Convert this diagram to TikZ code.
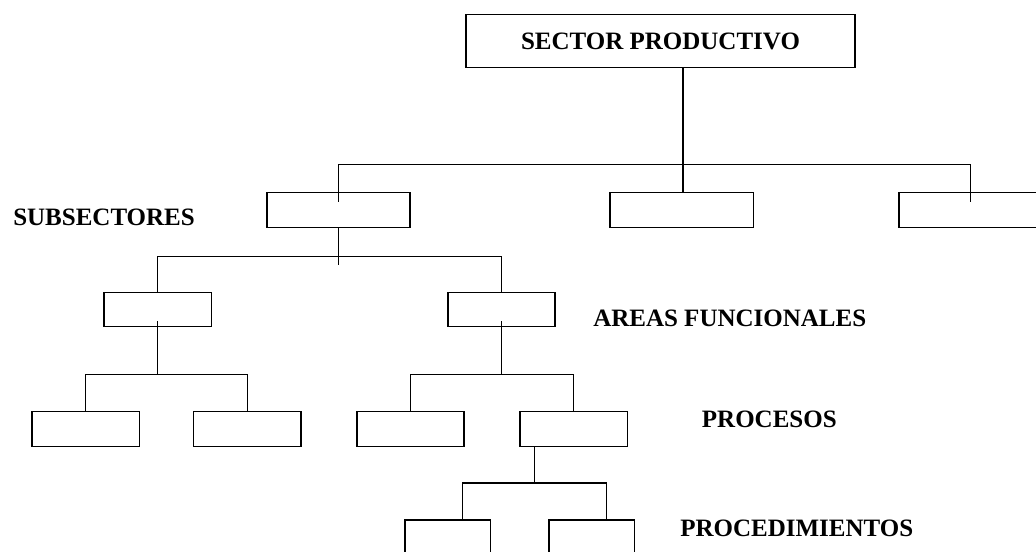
\documentclass[tikz,border=0pt]{standalone}
\usepackage{fontspec}
\setmainfont{Liberation Serif}
\begin{document}
\begin{tikzpicture}[x=0.75pt,y=-0.75pt,
  box/.style={draw, rectangle, inner sep=0pt, outer sep=0pt, line width=1.15pt},
  bigbox/.style={box, minimum width=291.75pt, minimum height=39.45pt,
    font=\bfseries\fontsize{18.75}{22}\selectfont},
  subbox/.style={box, minimum width=107.5pt, minimum height=26.4pt},
  areabox/.style={box, minimum width=80.6pt, minimum height=25.35pt},
  procbox/.style={box, minimum width=80.6pt, minimum height=26.25pt},
  stepbox/.style={box, minimum width=64.2pt, minimum height=26.25pt},
  lbl/.style={anchor=base west, inner sep=0pt, font=\bfseries\fontsize{18.75}{22}\selectfont},
  link/.style={line width=1.15pt, line cap=rect}]
\useasboundingbox (0,0) rectangle (1036,551);

% top level
\node[bigbox] (sector) at (660.5,41) {SECTOR PRODUCTIVO};

% subsectors
\node[subbox] (sub1) at (338.5,209.9) {};
\node[subbox] (sub2) at (681.85,209.9) {};
\node[subbox] (sub3) at (970.5,209.9) {};

% functional areas
\node[areabox] (area1) at (157.65,309.6) {};
\node[areabox] (area2) at (501.5,309.6) {};

% processes
\node[procbox] (p1) at (85.65,429.2) {};
\node[procbox] (p2) at (247.35,429.2) {};
\node[procbox] (p3) at (410.5,429.2) {};
\node[procbox] (p4) at (573.65,429.2) {};

% procedures
\node[stepbox] (q1) at (447.65,537.5) {};
\node[stepbox] (q2) at (591.85,537.5) {};

% level labels
\node[lbl] (lsub) at (13,225) {SUBSECTORES};
\node[lbl] (larea) at (593,326.7) {AREAS FUNCIONALES};
\node[lbl] (lproc) at (701.7,427.3) {PROCESOS};
\node[lbl] (lstep) at (680,536.7) {PROCEDIMIENTOS};

% branch points
\coordinate (b1) at (683,164.7);
\coordinate (b2) at (338.5,256.6);
\coordinate (b3) at (157.65,374.6);
\coordinate (b4) at (501.5,374.4);
\coordinate (b5) at (534.6,483);
\coordinate (d1) at (462.3,483);
\coordinate (d2) at (606.3,483);

% sector -> subsectors
\draw[link] (sector.south -| b1) -- (sub2.north -| b1);
\draw[link] ([yshift=-7pt]sub1.north) |- (b1) -| ([yshift=-7pt]sub3.north);

% subsector -> areas
\draw[link] (sub1.south) -- ([yshift=-27.6pt]sub1.south);
\draw[link] (area1.north) |- (b2) -| (area2.north);

% areas -> processes
\draw[link] ([yshift=3.6pt]area1.south) -- (b3);
\draw[link] (p1.north) |- (b3) -| (p2.north);
\draw[link] ([yshift=3.6pt]area2.south) -- (b4);
\draw[link] (p3.north) |- (b4) -| (p4.north);

% process -> procedures
\draw[link] (p4.south -| b5) -- (b5);
\draw[link] (q1.north -| d1) -- (d1) -- (d2) -- (q2.north -| d2);
\end{tikzpicture}
\end{document}
